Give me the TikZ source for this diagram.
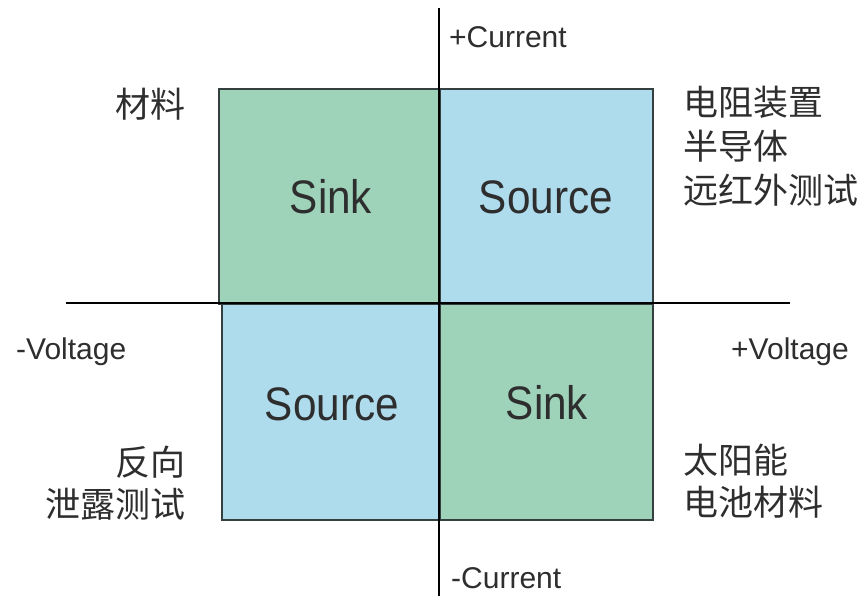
\documentclass[tikz,border=0pt]{standalone}
\usepackage{fontspec}
\setmainfont{Liberation Sans}
\newfontfamily\cjk{Noto Sans CJK SC}
\definecolor{sinkgreen}{HTML}{9ED3BA}
\definecolor{sourceblue}{HTML}{AEDCEC}
\definecolor{edgegray}{HTML}{34403F}
\definecolor{txtgray}{HTML}{2E2E2E}
\begin{document}
\begin{tikzpicture}[x=1pt,y=-1pt,
  quad/.style={draw=edgegray,line width=1.6pt,inner sep=0pt,anchor=north west},
  bigtxt/.style={text=txtgray,font=\fontsize{47}{50}\selectfont,inner sep=0pt},
  axislbl/.style={text=txtgray,font=\fontsize{30}{32}\selectfont,inner sep=0pt},
  cjklbl/.style={text=txtgray,font=\cjk\fontsize{35}{44}\selectfont,inner sep=0pt,align=left},
  cjklblb/.style={text=txtgray,font=\cjk\fontsize{35}{42}\selectfont,inner sep=0pt},
  axisline/.style={draw=black,line width=1.3pt}]
\useasboundingbox (0,0) rectangle (868,596);
\fill[white] (0,0) rectangle (868,596);
% quadrants
\node[quad,fill=sinkgreen,minimum width=221pt,minimum height=215pt] (q2) at (218,88) {};
\node[quad,fill=sourceblue,minimum width=213pt,minimum height=215pt] (q1) at (439,88) {};
\node[quad,fill=sourceblue,minimum width=218pt,minimum height=216pt] (q3) at (221,303) {};
\node[quad,fill=sinkgreen,minimum width=213pt,minimum height=216pt] (q4) at (439,303) {};
% quadrant texts
\node[bigtxt] (t2) at (331,197) {\scalebox{0.9}[1]{Sink}};
\node[bigtxt] (t1) at (546,197) {\scalebox{0.9}[1]{Source}};
\node[bigtxt] (t3) at (332,404) {\scalebox{0.9}[1]{Source}};
\node[bigtxt] (t4) at (547,403) {\scalebox{0.9}[1]{Sink}};
% axes
\coordinate (ytop) at (439,8);
\coordinate (ybot) at (439,596);
\coordinate (xl) at (66,303);
\coordinate (xr) at (790,303);
\draw[axisline] (ytop) -- (ybot);
\draw[axisline] (xl) -- (xr);
% axis labels
\node[axislbl,anchor=west] (pc) at (449,37) {+Current};
\node[axislbl,anchor=west] (mc) at (451,578) {-Current};
\node[axislbl,anchor=west] (mv) at (16,352) {-Voltage};
\node[axislbl,anchor=east] (pv) at (849,352) {+Voltage};
% side labels
\node[cjklbl,anchor=east] (l2) at (186,104) {材料};
\node[cjklbl,anchor=north west] (l1) at (683,86) {电阻装置\\半导体\\远红外测试};
\node[cjklblb,anchor=north east,align=right] (l3) at (186,446) {反向\\泄露测试};
\node[cjklblb,anchor=north west,align=left] (l4) at (683,444) {太阳能\\电池材料};
\end{tikzpicture}
\end{document}
